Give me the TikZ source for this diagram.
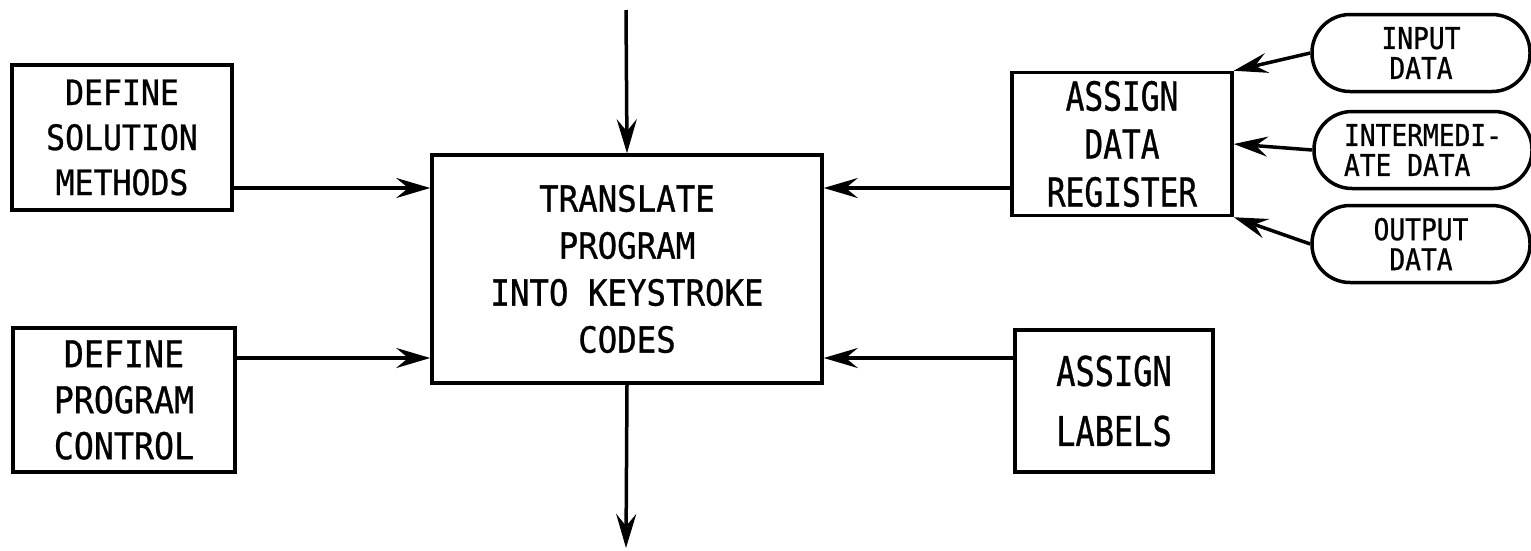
\documentclass[tikz,border=0pt]{standalone}
\usepackage{fontspec}
% monospaced sans lettering, condensed to the stencil pitch
\setmainfont[FakeStretch=0.9,FakeBold=0.8]{DejaVu Sans Mono}
\newfontfamily\condfont[FakeStretch=0.78,FakeBold=0.8]{DejaVu Sans Mono}
\newfontfamily\pillfont[FakeStretch=0.875,FakeBold=0.8]{DejaVu Sans Mono}
\usetikzlibrary{arrows.meta}

\tikzset{
  box/.style={draw, line width=3.5pt, inner sep=0pt, align=center,
    font=\fontsize{35}{45}\selectfont},
  pill/.style={draw, line width=3.5pt, rounded corners=38pt, inner sep=0pt,
    minimum width=218pt, minimum height=77pt, align=center,
    font=\pillfont\fontsize{30}{30}\selectfont},
  arr/.style={line width=3.5pt,
    -{Stealth[length=34pt,width=20pt,inset=12pt]}}
}

\begin{document}
\begin{tikzpicture}[x=1pt,y=-1pt]
\useasboundingbox (0,0) rectangle (1531,550);

% process boxes
\node[box, minimum width=220pt, minimum height=145pt] (def1) at (122,137.5)
  {DEFINE\\SOLUTION\\METHODS};
\node[box, minimum width=222pt, minimum height=144pt,
  font=\fontsize{37}{46}\selectfont] (def2) at (124,400)
  {DEFINE\\PROGRAM\\CONTROL};
\node[box, minimum width=390pt, minimum height=228pt,
  font=\fontsize{36}{47}\selectfont] (tr) at (627,269)
  {TRANSLATE\\PROGRAM\\INTO KEYSTROKE\\CODES};
\node[box, minimum width=220pt, minimum height=143pt,
  font=\condfont\fontsize{40}{48}\selectfont] (adr) at (1122,144)
  {ASSIGN\\DATA\\REGISTER};
\node[box, minimum width=198pt, minimum height=142pt, align=left,
  font=\condfont\fontsize{41}{60}\selectfont] (lab) at (1114,401)
  {ASSIGN\\LABELS};

% data terminals
\node[pill] (in) at (1421,53) {INPUT\\DATA};
\node[pill, align=left] (mid) at (1423,150) {INTERMEDI-\\ATE DATA};
\node[pill] (out) at (1421,244) {OUTPUT\\DATA};

% connector levels and free ends
\coordinate (upper) at (0,188);
\coordinate (lower) at (0,358);
\coordinate (src) at (626,10);
\coordinate (sink) at (626,548);

% connectors
\draw[arr] (def1.east |- upper) -- (tr.west |- upper);
\draw[arr] (def2.east |- lower) -- (tr.west |- lower);
\draw[arr] (adr.west |- upper) -- (tr.east |- upper);
\draw[arr] (lab.west |- lower) -- (tr.east |- lower);
\draw[arr] (src) -- (tr.north);
\draw[arr] (tr.south) -- (sink);
\draw[arr] (in.west) -- (adr.north east);
\draw[arr] (mid.west) -- (adr.east);
\draw[arr] (out.west) -- (adr.south east);
\end{tikzpicture}
\end{document}
